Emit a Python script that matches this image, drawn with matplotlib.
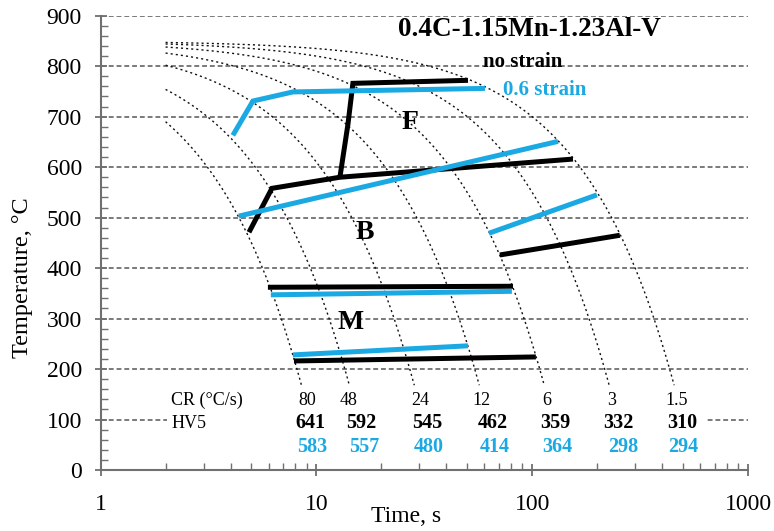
import numpy as np
import matplotlib
matplotlib.use('Agg')
import matplotlib.pyplot as plt
from matplotlib.ticker import MultipleLocator, LogLocator, NullFormatter
from matplotlib.patches import Rectangle

plt.rcParams['font.family'] = ['Liberation Serif', 'DejaVu Serif']

BLUE = '#1aa9e3'

# cooling rates (C/s) and hardness HV5
cr = [80, 48, 24, 12, 6, 3, 1.5]
cr_text = ['80', '48', '24', '12', '6', '3', '1.5']
hv_nostrain = [641, 592, 545, 462, 359, 332, 310]
hv_strain = [583, 557, 480, 414, 364, 298, 294]
t_start = 850  # austenitising temp the cooling curves start from

# transformation lines, no strain (time s, temp C)
f_ns_t = [12.85, 14.0, 14.76, 50.4]
f_ns_T = [580, 685, 766, 772]
b_ns_t = [4.87, 6.22, 12.85, 154.5]
b_ns_T = [471, 558, 580, 616]
b2_ns_t = [70.8, 254.8]
b2_ns_T = [426, 465]
ms_ns_t = [5.96, 81.5]
ms_ns_T = [362, 364]
mf_ns_t = [7.87, 104]
mf_ns_T = [216, 224]

# transformation lines, 0.6 strain
f_s_t = [4.10, 5.08, 7.78, 60.4]
f_s_T = [663, 731, 749, 756]
b_s_t = [4.37, 131.6]
b_s_T = [503, 651]
b2_s_t = [63, 199.5]
b2_s_T = [469, 545]
ms_s_t = [6.15, 80.5]
ms_s_T = [347, 354]
mf_s_t = [7.78, 50.4]
mf_s_T = [228, 246]

fig = plt.figure(figsize=(7.74, 5.31), dpi=100)
ax = fig.add_axes([0.130, 0.1149, 0.8364, 0.8555])
ax.set_xscale('log')
ax.set_xlim(1, 1000)
ax.set_ylim(0, 900)

# horizontal grid
for yy in range(100, 901, 100):
    ax.axhline(yy, color='#7a7a7a', lw=1.4, ls=(0, (2.5, 1.5)), zorder=1)

# cooling curves (constant rate)
for c in cr:
    tt = np.logspace(np.log10(2), np.log10((t_start - 168) / c), 200)
    ax.plot(tt, t_start - c * tt, color='#111111', lw=1.0, ls=(0, (1.5, 2.2)), zorder=2)

# blank area behind the CR / HV table
ax.add_patch(Rectangle((2.03, 22), 643, 140, facecolor='white', edgecolor='none', zorder=3))

lw = 3.6
for t, T in [(f_ns_t, f_ns_T), (b_ns_t, b_ns_T), (b2_ns_t, b2_ns_T),
             (ms_ns_t, ms_ns_T), (mf_ns_t, mf_ns_T)]:
    ax.plot(t, T, color='black', lw=lw, solid_capstyle='butt', solid_joinstyle='miter', zorder=5)
for t, T in [(f_s_t, f_s_T), (b_s_t, b_s_T), (b2_s_t, b2_s_T),
             (ms_s_t, ms_s_T), (mf_s_t, mf_s_T)]:
    ax.plot(t, T, color=BLUE, lw=lw, solid_capstyle='butt', solid_joinstyle='miter', zorder=5)

# phase labels
ax.text(27.1, 689, 'F', fontsize=20, fontweight='bold', ha='center', va='center', zorder=6)
ax.text(16.8, 471, 'B', fontsize=20, fontweight='bold', ha='center', va='center', zorder=6)
ax.text(14.4, 293, 'M', fontsize=20, fontweight='bold', ha='center', va='center', zorder=6)

ax.text(96.6, 873, '0.4C-1.15Mn-1.23Al-V', fontsize=19.5, fontweight='bold', ha='center', va='center', zorder=6)
ax.text(90.6, 808, 'no strain', fontsize=15, fontweight='bold', ha='center', va='center', zorder=6)
ax.text(114.5, 752, '0.6 strain', fontsize=15, fontweight='bold', color=BLUE, ha='center', va='center', zorder=6)

# CR / HV table
cr_x = [9.04, 14.1, 30.2, 58.5, 117, 234, 469]
hv_x = [9.4, 16.2, 32.5, 66, 128, 252, 497]
hv2_x = [9.6, 16.6, 33.0, 67, 131, 265, 503]
ax.text(2.12, 137, 'CR (\u00b0C/s)', fontsize=13, ha='left', va='center', zorder=6)
ax.text(2.12, 93, 'HV5', fontsize=13, ha='left', va='center', zorder=6)
for i in range(len(cr)):
    ax.text(cr_x[i], 137, cr_text[i], fontsize=13, ha='center', va='center', zorder=6)
    ax.text(hv_x[i], 93, str(hv_nostrain[i]), fontsize=14.5, fontweight='bold', ha='center', va='center', zorder=6)
    ax.text(hv2_x[i], 46, str(hv_strain[i]), fontsize=14.5, fontweight='bold', color=BLUE, ha='center', va='center', zorder=6)

# axes styling
for s in ['top', 'right']:
    ax.spines[s].set_visible(False)
for s in ['left', 'bottom']:
    ax.spines[s].set_color('#707070')
    ax.spines[s].set_linewidth(1.5)
    ax.spines[s].set_zorder(7)

ax.yaxis.set_major_locator(MultipleLocator(100))
ax.yaxis.set_minor_locator(MultipleLocator(20))
ax.xaxis.set_minor_locator(LogLocator(base=10, subs=np.arange(2, 10), numticks=10))
ax.xaxis.set_minor_formatter(NullFormatter())
ax.set_xticks([1, 10, 100, 1000])
ax.set_xticklabels(['1', '10', '100', '1000'])

ax.tick_params(which='major', direction='inout', length=9, width=1.3, color='#707070', labelsize=17)
ax.tick_params(which='minor', direction='in', length=5, width=1.0, color='#707070')
ax.tick_params(axis='x', which='major', pad=13)
ax.tick_params(axis='y', which='major', pad=9)

ax.set_xlabel('Time, s', fontsize=17, va='top')
ax.set_ylabel('Temperature, \u00b0C', fontsize=17.5)
ax.xaxis.set_label_coords(0.472, -0.079)
ax.yaxis.set_label_coords(-0.1046, 0.4226)

fig.savefig('out.png', dpi=100)
